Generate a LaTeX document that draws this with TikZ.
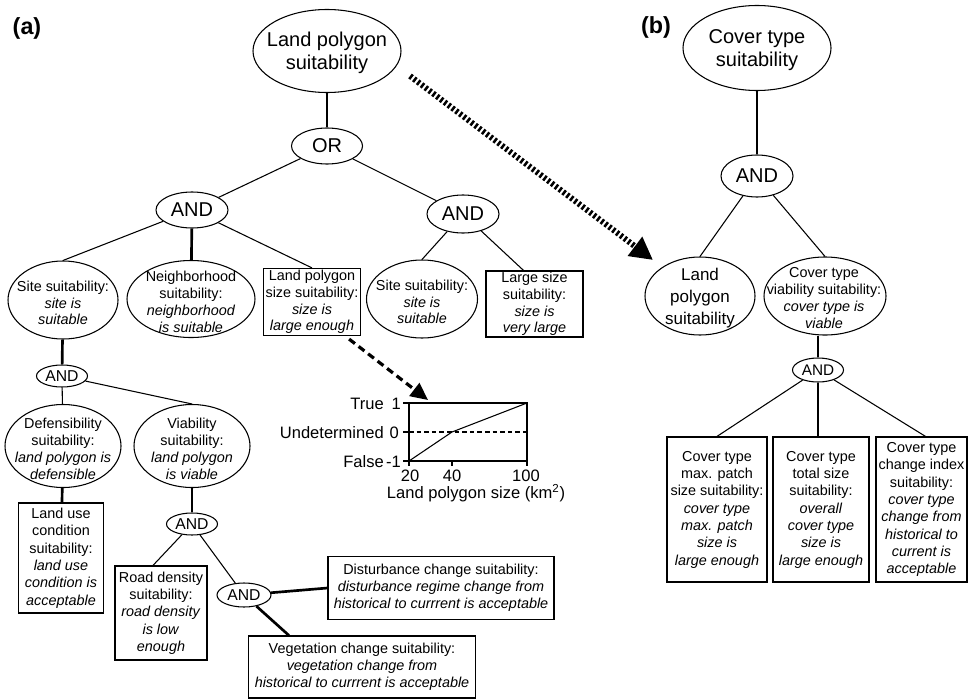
\documentclass[tikz,border=0pt]{standalone}
\usepackage{fontspec}
\setmainfont{Liberation Sans}
\usetikzlibrary{shapes.geometric,arrows.meta,calc}
\newcommand\FSbig{\fontsize{15}{17.25}\selectfont}
\newcommand\FSmid{\fontsize{12.75}{16.2}\selectfont}
\newcommand\FSsmall{\fontsize{10.8}{12.6}\selectfont}
\newcommand\FSand{\fontsize{11.8}{13}\selectfont}
\newcommand\FSchart{\fontsize{12.4}{14}\selectfont}
\def\PX{0.75pt}
\begin{document}
\begin{tikzpicture}[x=0.75pt,y=-0.75pt,
  oval/.style={ellipse, draw, line width=0.8pt, inner sep=0pt},
  andnode/.style={oval, font=\FSbig, minimum width=72*\PX, minimum height=36*\PX},
  sandnode/.style={oval, font=\FSand, minimum width=51*\PX, minimum height=22*\PX},
  box/.style={rectangle, draw, line width=0.9pt, inner sep=0pt, align=center, font=\FSsmall},
  lbl/.style={align=center, inner sep=0pt, font=\FSsmall},
  thinl/.style={line width=0.8pt},
  thickl/.style={line width=2pt},
  panel/.style={font=\bfseries\fontsize{17.5}{19}\selectfont, inner sep=0pt},
  chartlbl/.style={font=\FSchart, inner sep=0pt}
]
\useasboundingbox (0,0) rectangle (969,699);

% ---------------- panel (a) ----------------
\node[panel] (la) at (27,28) {(a)};

\node[oval, minimum width=148*\PX, minimum height=83*\PX] (top) at (327,51) {};
\node[lbl, font=\FSbig] (topT) at (327,53) {Land polygon\\suitability};

\node[andnode, minimum width=71*\PX] (or) at (327,146) {OR};
\node[andnode] (and1) at (192,210) {AND};
\node[andnode, minimum height=38*\PX] (and2) at (463,214) {AND};

\node[oval, minimum width=110*\PX, minimum height=78*\PX] (site1) at (63,300) {};
\node[lbl] (site1T) at (63,303) {Site suitability:\\\textit{site is}\\\textit{suitable}};

\node[oval, minimum width=128*\PX, minimum height=77*\PX] (nbh) at (191,299) {};
\node[lbl] (nbhT) at (191,302) {Neighborhood\\suitability:\\\textit{neighborhood}\\\textit{is suitable}};

\node[box, minimum width=97*\PX, minimum height=67*\PX] (lpsize) at (312,302)
  {Land polygon\\size suitability:\\\textit{size is}\\\textit{large enough}};

\node[oval, minimum width=111*\PX, minimum height=78*\PX] (site2) at (422,299) {};
\node[lbl] (site2T) at (422,302) {Site suitability:\\\textit{site is}\\\textit{suitable}};

\node[box, minimum width=97*\PX, minimum height=66*\PX] (large) at (534.5,304)
  {Large size\\suitability:\\\textit{size is}\\\textit{very large}};

\node[sandnode] (and3) at (62,376) {AND};

\node[oval, minimum width=116*\PX, minimum height=83*\PX] (def) at (63,446) {};
\node[lbl] (defT) at (63,449) {Defensibility\\suitability:\\\textit{land polygon is}\\\textit{defensible}};

\node[oval, minimum width=116*\PX, minimum height=83*\PX] (via) at (192,446) {};
\node[lbl] (viaT) at (192,449) {Viability\\suitability:\\\textit{land polygon}\\\textit{is viable}};

\node[box, minimum width=85*\PX, minimum height=110*\PX, font=\fontsize{10.8}{13}\selectfont] (landuse) at (61,558)
  {Land use\\condition\\suitability:\\\textit{land use}\\\textit{condition is}\\\textit{acceptable}};

\node[sandnode] (and4) at (192,524) {AND};

\node[box, minimum width=92*\PX, minimum height=94*\PX, font=\fontsize{10.8}{13}\selectfont] (road) at (161,613)
  {Road density\\suitability:\\\textit{road density}\\\textit{is low}\\\textit{enough}};

\node[sandnode, minimum width=54*\PX, minimum height=24*\PX] (and5) at (244,595) {AND};

\node[box, minimum width=226*\PX, minimum height=63*\PX] (dist) at (441,588)
  {Disturbance change suitability:\\\textit{disturbance regime change from}\\\textit{historical to currrent is acceptable}};

\node[box, minimum width=227*\PX, minimum height=62*\PX] (veg) at (362,667)
  {Vegetation change suitability:\\\textit{vegetation change from}\\\textit{historical to currrent is acceptable}};

% connectors (a)
\draw[thickl] (top) -- (or);
\draw[thinl] (or) -- (and1);
\draw[thinl] (or) -- (and2);
\draw[thinl] (and1) -- (site1.north);
\draw[thickl] (and1) -- (nbh);
\draw[thinl] (and1) -- (lpsize.north);
\draw[thinl] (and2) -- (site2.north);
\draw[thinl] (and2) -- ($(large.north)+(-11,0)$);
\draw[thickl] (site1) -- (and3);
\draw[thinl] (and3) -- (def);
\draw[thinl] (and3) -- (via.north);
\draw[thickl] (def) -- (landuse);
\draw[thinl] (via) -- (and4);
\draw[thinl] (and4) -- ($(road.north)+(-8,0)$);
\draw[thinl] (and4) -- (and5);
\draw[thickl] (and5) -- (dist.west);
\draw[thickl] (and5) -- ($(veg.north west)+(41,0)$);

% ---------------- chart ----------------
\coordinate (plotNW) at (409,403);
\coordinate (plotSE) at (527,461);
\coordinate (plotArrow) at (428,400);
\draw[line width=1.6pt] (plotNW) rectangle (plotSE);
\draw[line width=1.2pt] (403,403) -- (409,403) (403,432) -- (409,432) (403,461) -- (409,461)
  (409,461) -- (409,466) (452,461) -- (452,466) (527,461) -- (527,466);
\draw[line width=1.4pt, dash pattern=on 3.5pt off 2.2pt] (409,432) -- (527,432);
\draw[line width=0.8pt] (409,461) -- (452,432) -- (527,403);
\node[chartlbl, anchor=east] (tTrue) at (384,404) {True};
\node[chartlbl, anchor=east] (tUnd) at (384,433) {Undetermined};
\node[chartlbl, anchor=east] (tFalse) at (384,462) {False};
\node[chartlbl, anchor=east] (t1) at (401,404) {1};
\node[chartlbl, anchor=east] (t0) at (399,433) {0};
\node[chartlbl, anchor=east] (tm1) at (401,462) {-1};
\node[chartlbl] (x20) at (410,476) {20};
\node[chartlbl] (x40) at (452,476) {40};
\node[chartlbl] (x100) at (526,476) {100};
\node[chartlbl] (xlab) at (476,493) {Land polygon size (km\textsuperscript{2})};

\draw[line width=2.4pt, dash pattern=on 5.5pt off 3.5pt, -{Triangle[length=13pt,width=12pt]}]
  ($(lpsize.south east)+(-12,3)$) -- (plotArrow);

% ---------------- panel (b) ----------------
\node[panel] (lb) at (656,27) {(b)};

\node[oval, minimum width=148*\PX, minimum height=85*\PX] (cover) at (757,48) {};
\node[lbl, font=\FSbig] (coverT) at (757,50) {Cover type\\suitability};

\node[andnode, minimum height=42*\PX] (andB) at (757,176) {AND};

\node[oval, minimum width=110*\PX, minimum height=78*\PX] (lp2) at (700,296) {};
\node[lbl, font=\FSmid] (lp2T) at (700,298) {Land\\polygon\\suitability};

\node[oval, minimum width=122*\PX, minimum height=78*\PX] (cvia) at (825,296) {};
\node[lbl] (cviaT) at (824,298) {Cover type\\viability suitability:\\\textit{cover type is}\\\textit{viable}};

\node[sandnode, minimum height=24*\PX, font=\fontsize{11.5}{13}\selectfont] (andC) at (818,370) {AND};

\node[box, minimum width=100*\PX, minimum height=145*\PX, font=\fontsize{10.8}{13}\selectfont] (box1) at (717,509.5)
  {Cover type\\max. patch\\size suitability:\\\textit{cover type}\\\textit{max. patch}\\\textit{size is}\\\textit{large enough}};
\node[box, minimum width=96*\PX, minimum height=145*\PX, font=\fontsize{10.8}{13}\selectfont] (box2) at (821,509.5)
  {Cover type\\total size\\suitability:\\\textit{overall}\\\textit{cover type}\\\textit{size is}\\\textit{large enough}};
\node[box, minimum width=91*\PX, minimum height=145*\PX, font=\fontsize{10.8}{13}\selectfont] (box3) at (921.5,509.5)
  {Cover type\\change index\\suitability:\\\textit{cover type}\\\textit{change from}\\\textit{historical to}\\\textit{current is}\\\textit{acceptable}};

% connectors (b)
\draw[thickl] (cover) -- (andB);
\draw[thinl] (andB) -- (lp2.north);
\draw[thinl] (andB) -- (cvia.north);
\draw[thickl] (andC) -- (andC |- cvia.south);
\draw[thinl] (andC) -- (box1.north);
\draw[thickl] (andC) -- (andC |- box2.north);
\draw[thinl] (andC) -- ($(box3.north)+(4,0)$);

% dotted arrow between panels
\draw[line width=4.4pt, dash pattern=on 1.9pt off 1.7pt, -{Triangle[length=17pt,width=17pt]}]
  ($(top.center)+(83,25)$) -- ($(lp2.center)+(-47,-36)$);
\end{tikzpicture}
\end{document}
